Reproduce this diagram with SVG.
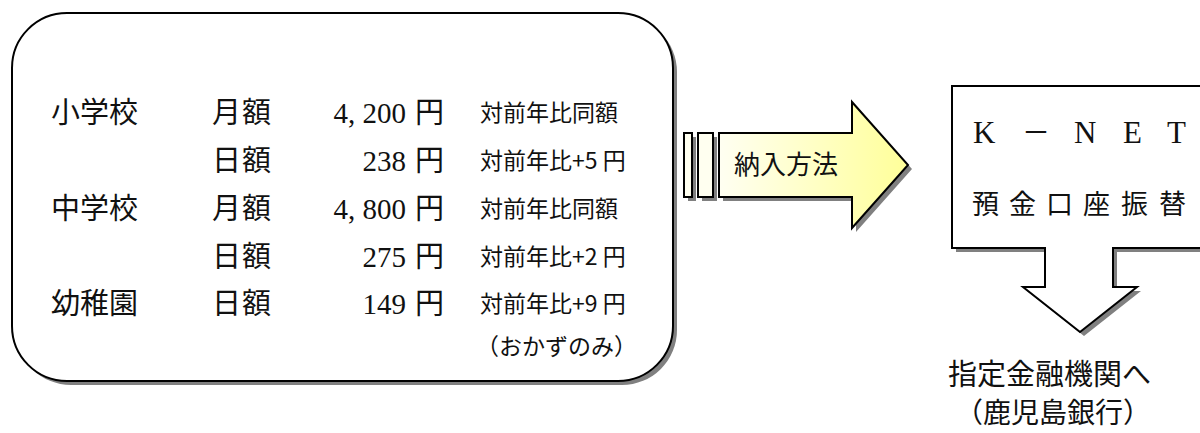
<svg xmlns="http://www.w3.org/2000/svg" width="1200" height="433" viewBox="0 0 1200 433">
<style>
.jp{font-family:"Noto Sans CJK JP","Noto Sans",sans-serif;fill:#111}
.num{font-family:"Liberation Serif","Noto Sans CJK JP",serif;fill:#111}
.main{font-size:29px}
.cmp{font-size:23px}
.shadow{fill:#808080}
.outline{stroke:#000;stroke-width:2;stroke-linejoin:miter}
</style>
<defs>
<linearGradient id="yel" gradientUnits="userSpaceOnUse" x1="719" y1="0" x2="908" y2="0">
<stop offset="0" stop-color="#fffff2"/>
<stop offset="1" stop-color="#ffff99"/>
</linearGradient>
</defs>
<rect width="1200" height="433" fill="#fff"/>

<g id="fees">
<rect class="shadow" x="16" y="17" width="661" height="368" rx="55"/>
<rect class="outline" x="12" y="13" width="661" height="368" rx="55" fill="#fff"/>
<g class="jp main">
<text x="51" y="123">小学校</text>
<text x="51" y="219">中学校</text>
<text x="51" y="314">幼稚園</text>
<text x="212" y="123" letter-spacing="1">月額</text>
<text x="212" y="171" letter-spacing="1">日額</text>
<text x="212" y="219" letter-spacing="1">月額</text>
<text x="212" y="267" letter-spacing="1">日額</text>
<text x="212" y="314" letter-spacing="1">日額</text>
</g>
<g class="num main" text-anchor="end" font-size="30">
<text x="406" y="123">4, 200</text>
<text x="406" y="171">238</text>
<text x="406" y="219">4, 800</text>
<text x="406" y="267">275</text>
<text x="406" y="314">149</text>
</g>
<g class="jp main">
<text x="415" y="123">円</text>
<text x="415" y="171">円</text>
<text x="415" y="219">円</text>
<text x="415" y="267">円</text>
<text x="415" y="314">円</text>
</g>
<g class="jp cmp">
<text x="480" y="121">対前年比同額</text>
<text x="480" y="169">対前年比+5 円</text>
<text x="480" y="217">対前年比同額</text>
<text x="480" y="265">対前年比+2 円</text>
<text x="480" y="312">対前年比+9 円</text>
<text x="476" y="355">（おかずのみ）</text>
</g>
</g>

<g id="connectors">
<g id="arrow-payment">
<rect class="shadow" x="688" y="137" width="8" height="64"/>
<rect class="shadow" x="702" y="137" width="15" height="64"/>
<path class="shadow" d="M723,137 H856 V106 L912,169 L856,232 V201 H723 Z"/>
<rect class="outline" x="684" y="133" width="8" height="64" fill="#fffff0" stroke-width="1.5"/>
<rect class="outline" x="698" y="133" width="15" height="64" fill="#fffff0" stroke-width="1.5"/>
<path class="outline" d="M719,133 H852 V102 L908,165 L852,228 V197 H719 Z" fill="url(#yel)" stroke-width="1.5"/>
<text class="jp" x="734" y="174" font-size="26">納入方法</text>
</g>
</g>

<g id="knet">
<path class="shadow" d="M956,90 H1214 V252 H1117 V291 H1141 L1084,336 L1027,291 H1049 V252 H956 Z"/>
<path class="outline" d="M952,86 H1210 V248 H1113 V287 H1137 L1080,332 L1023,287 H1045 V248 H952 Z" fill="#fff"/>
<text class="num" font-size="31" y="143"><tspan x="973">K</tspan><tspan x="1022" class="jp" font-size="28">－</tspan><tspan x="1074">N</tspan><tspan x="1123">E</tspan><tspan x="1167">T</tspan></text>
<text class="jp" font-size="27" y="214"><tspan x="972">預</tspan><tspan x="1009">金</tspan><tspan x="1046">口</tspan><tspan x="1083">座</tspan><tspan x="1121">振</tspan><tspan x="1159">替</tspan></text>
</g>

<g id="bank">
<text class="jp" x="948" y="385" font-size="29">指定金融機関へ</text>
<text class="jp" x="955" y="423" font-size="28">（鹿児島銀行）</text>
</g>
</svg>
